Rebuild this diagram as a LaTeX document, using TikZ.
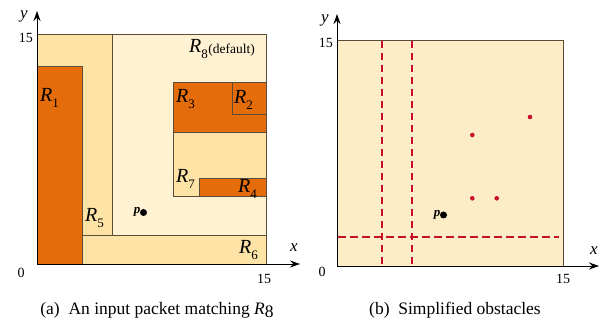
\documentclass[tikz,border=0pt]{standalone}
\usepackage{fontspec}
\setmainfont{Liberation Serif}
\usetikzlibrary{arrows.meta}
\definecolor{dorange}{HTML}{E46C0A}
\definecolor{lorange}{HTML}{FDE3A6}
\definecolor{cream}{HTML}{FFF2D2}
\definecolor{creamb}{HTML}{FDEDC6}
\definecolor{edge}{HTML}{5C4B36}
\definecolor{dred}{HTML}{C8102E}
\newcommand\RR[1]{\textit{R}\raisebox{-0.3em}{\fontsize{13}{13}\selectfont #1}}
\tikzset{
  rgn/.style={draw=edge, line width=0.8pt},
  rlab/.style={font=\fontsize{20}{20}\selectfont, inner sep=0pt},
  ticklab/.style={font=\fontsize{14}{14}\selectfont, inner sep=0pt},
  axlab/.style={font=\fontsize{17}{17}\selectfont\itshape, inner sep=0pt},
  axisline/.style={line width=0.9pt, -{Stealth[length=10pt,width=7pt]}},
  obst/.style={dred, line width=2.2pt, dash pattern=on 7.5pt off 4.5pt},
  captext/.style={font=\fontsize{17.5}{17.5}\selectfont, inner sep=0pt},
  pdot/.style={circle, fill=black, inner sep=0pt, minimum size=7pt},
  rdot/.style={circle, fill=dred, inner sep=0pt, minimum size=4.6pt},
  plab/.style={font=\fontsize{13}{13}\selectfont\bfseries\itshape, inner sep=0pt}
}
\begin{document}
\begin{tikzpicture}[x=1pt,y=-1pt]
\useasboundingbox (0,0) rectangle (603,320);
% ---------- panel (a) ----------
\fill[cream] (37,34) rectangle (266,264);
\fill[lorange] (37,34) rectangle (112,235);
\draw[rgn] (112,34) -- (112,235);
\fill[lorange] (82,235) rectangle (266,264);
\draw[rgn] (37,235) -- (266,235);
\fill[lorange] (173,82) rectangle (266,196);
\draw[rgn] (173,82) rectangle (266,196);
\fill[dorange] (173,82) rectangle (266,132);
\draw[rgn] (173,82) rectangle (266,132);
\draw[rgn] (232,82) rectangle (266,114);
\fill[dorange] (199,178) rectangle (266,196);
\draw[rgn] (199,178) rectangle (266,196);
\fill[dorange] (37,66) rectangle (82,264);
\draw[rgn] (37,66) rectangle (82,264);
\draw[rgn] (37,34) rectangle (266,264);
\node[rlab, anchor=base west] (l1) at (40,102) {\RR{1}};
\node[rlab, anchor=base west] (l2) at (234,104) {\RR{2}};
\node[rlab, anchor=base west] (l3) at (176,103) {\RR{3}};
\node[rlab, anchor=base west] (l4) at (238,193) {\RR{4}};
\node[rlab, anchor=base west] (l5) at (85,222) {\RR{5}};
\node[rlab, anchor=base west] (l6) at (239,254) {\RR{6}};
\node[rlab, anchor=base west] (l7) at (176,183) {\RR{7}};
\node[rlab, anchor=base west] (l8) at (189,53) {\RR{8}};
\node[inner sep=0pt, anchor=base west, font=\fontsize{13.5}{13.5}\selectfont] (l8d) at ([yshift=-1pt]l8.base east) {(default)};
\node[pdot] (pa) at (143.5,212.5) {};
\node[plab, anchor=base east] (pla) at (140.5,214) {p};
\coordinate (oa) at (37,264);
\coordinate (ya) at (37,11);
\coordinate (xa) at (300,264);
\draw[axisline] (oa) -- (ya);
\draw[axisline] (oa) -- (xa);
\node[axlab] (yla) at (24,16) {y};
\node[axlab] (xla) at (294,248) {x};
\node[ticklab, anchor=east] (t15ya) at (33,38) {15};
\node[ticklab] (t0a) at (21,273) {0};
\node[ticklab] (t15xa) at (264,279) {15};
\node[captext, anchor=base] (capa) at (157,315) {(a)\ \ An input packet matching \textit{R}\raisebox{-0.15em}{8}};
% ---------- panel (b) ----------
\fill[creamb] (337,40) rectangle (563,266);
\draw[rgn] (337,40) rectangle (563,266);
\coordinate (v1t) at (381.7,41); \coordinate (v1b) at (381.7,265);
\coordinate (v2t) at (411.7,41); \coordinate (v2b) at (411.7,265);
\coordinate (h1l) at (338,237.3); \coordinate (h1r) at (559,237.3);
\draw[obst] (v1t) -- (v1b);
\draw[obst] (v2t) -- (v2b);
\draw[obst] (h1l) -- (h1r);
\node[rdot] (d1) at (472.3,135) {};
\node[rdot] (d2) at (530,117) {};
\node[rdot] (d3) at (472.3,198.3) {};
\node[rdot] (d4) at (496.7,198.3) {};
\node[pdot] (pb) at (443.5,215) {};
\node[plab, anchor=base east] (plb) at (440.5,216.5) {p};
\coordinate (ob) at (337,266);
\coordinate (yb) at (337,14);
\coordinate (xb) at (599,266);
\draw[axisline] (ob) -- (yb);
\draw[axisline] (ob) -- (xb);
\node[axlab] (ylb) at (325,20) {y};
\node[axlab] (xlb) at (594,251) {x};
\node[ticklab, anchor=east] (t15yb) at (333,43) {15};
\node[ticklab] (t0b) at (322,272) {0};
\node[ticklab] (t15xb) at (563,279) {15};
\node[captext, anchor=base] (capb) at (455,315) {(b)\ \ Simplified obstacles};
\end{tikzpicture}
\end{document}
